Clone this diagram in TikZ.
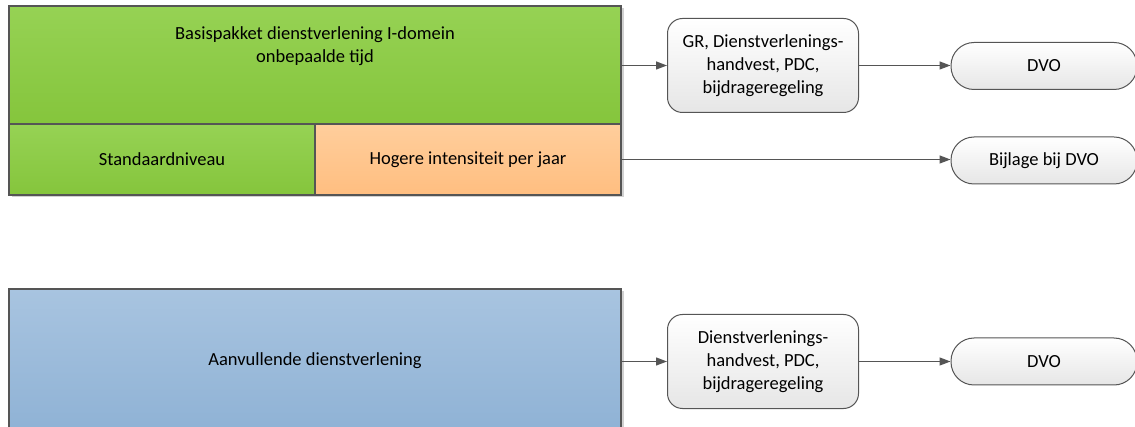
\documentclass[tikz,border=0pt]{standalone}
\usepackage{fontspec}
\setmainfont{Carlito}
\usetikzlibrary{arrows.meta, shadows, positioning}

\definecolor{lijn}{RGB}{85,85,85}
\definecolor{groenboven}{RGB}{150,210,84}
\definecolor{groenonder}{RGB}{133,197,60}
\definecolor{oranjeboven}{RGB}{255,206,156}
\definecolor{oranjeonder}{RGB}{255,190,128}
\definecolor{blauwboven}{RGB}{168,196,224}
\definecolor{blauwonder}{RGB}{143,178,213}
\definecolor{grijsonder}{RGB}{230,230,230}

\tikzset{
  blok/.style={draw=lijn, line width=1.3pt, inner sep=0pt, align=center,
    drop shadow={shadow xshift=2.5pt, shadow yshift=-2.5pt, fill=black!18, opacity=1}},
  groen/.style={blok, top color=groenboven, bottom color=groenonder},
  oranje/.style={blok, top color=oranjeboven, bottom color=oranjeonder},
  blauw/.style={blok, top color=blauwboven, bottom color=blauwonder},
  doc/.style={draw=lijn, line width=1pt, rounded corners=15pt, top color=white,
    bottom color=grijsonder, inner sep=0pt, align=center,
    minimum width=191pt, minimum height=94pt},
  eind/.style={doc, rounded corners=23pt, minimum width=186pt, minimum height=47pt},
  pijl/.style={draw=lijn, line width=1.3pt, -{Triangle[length=11pt,width=8pt]}}
}

\begin{document}
\begin{tikzpicture}[x=1pt, y=-1pt, font=\fontsize{18.5}{23}\selectfont]
  \path[use as bounding box, clip] (0,0) rectangle (1135,427);

  % basispakket
  \node[groen, minimum width=612pt, minimum height=118pt] (basis) at (315,65) {};
  \node[align=center] (basistekst) at (315,46) {Basispakket dienstverlening I-domein\\onbepaalde tijd};
  \node[groen, minimum width=306pt, minimum height=71pt] (standaard) at (162,159.5) {Standaardniveau};
  \node[oranje, minimum width=306pt, minimum height=71pt] (hoger) at (468,159.5) {Hogere intensiteit per jaar};

  % aanvullend
  \node[blauw, minimum width=612pt, minimum height=143pt] (aanvul) at (315,360.5) {Aanvullende dienstverlening};

  % documenten
  \node[doc] (grdoc) at (763,65.5) {GR, Dienstverlenings-\\handvest, PDC,\\bijdrageregeling};
  \node[eind] (dvoA) at (1044,66) {DVO};
  \node[eind] (bijlage) at (1044,160.5) {Bijlage bij DVO};
  \node[doc] (dochandv) at (763,361.5) {Dienstverlenings-\\handvest, PDC,\\bijdrageregeling};
  \node[eind] (dvoB) at (1044,361.5) {DVO};

  % pijlen
  \draw[pijl] (basis.east |- grdoc.west) -- (grdoc.west);
  \draw[pijl] (grdoc.east) -- (dvoA.west |- grdoc.east);
  \draw[pijl] (hoger.east) -- (bijlage.west |- hoger.east);
  \draw[pijl] (aanvul.east |- dochandv.west) -- (dochandv.west);
  \draw[pijl] (dochandv.east) -- (dvoB.west);
\end{tikzpicture}
\end{document}
